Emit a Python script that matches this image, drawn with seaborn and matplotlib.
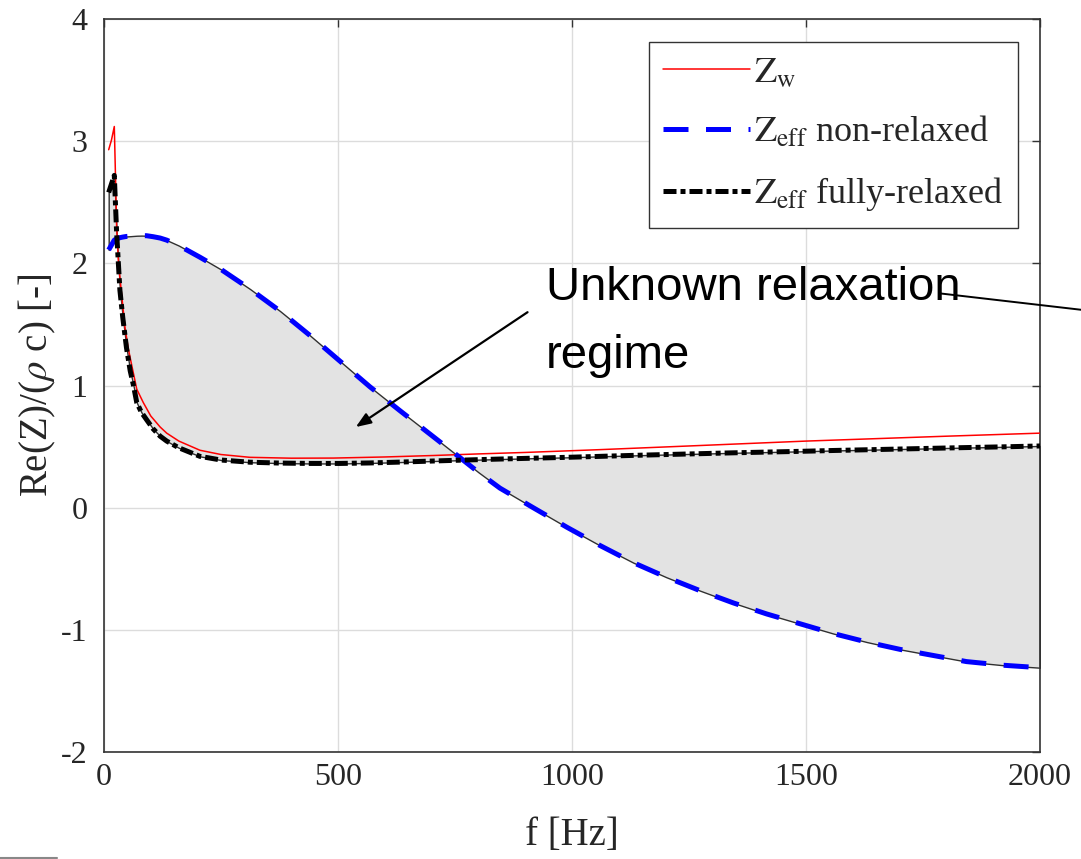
import matplotlib
matplotlib.use("Agg")
import matplotlib.pyplot as plt
import seaborn as sns
import numpy as np

# Wall impedance Z_w (real part, normalised by rho*c)
freq_w = [10, 16, 22, 24, 27, 31, 38, 45, 52, 59, 70, 84, 100, 120, 134, 160,
          205, 250, 312, 400, 490, 600, 704, 800, 900, 1060, 1250, 1500, 1650,
          1800, 2000]
z_w = [2.93, 3.01, 3.12, 2.80, 2.30, 2.00, 1.73, 1.47, 1.30, 1.17, 0.97, 0.86,
       0.75, 0.66, 0.61, 0.545, 0.47, 0.435, 0.412, 0.405, 0.406, 0.415, 0.427,
       0.44, 0.452, 0.475, 0.505, 0.545, 0.565, 0.585, 0.61]

# Effective impedance, non-relaxed and fully-relaxed limits
freq_eff = [10, 22, 27, 34, 40, 48, 56, 63, 70, 80, 91, 105, 120, 134, 160,
            205, 250, 312, 376, 440, 504, 568, 632, 704, 754, 800, 846, 917,
            989, 1060, 1131, 1202, 1274, 1345, 1416, 1487, 1558, 1630, 1701,
            1772, 1843, 1922, 2000]
z_non_relaxed = [2.11, 2.19, 2.20, 2.21, 2.215, 2.22, 2.222, 2.224, 2.226,
                 2.227, 2.226, 2.218, 2.207, 2.19, 2.145, 2.05, 1.95, 1.79,
                 1.61, 1.41, 1.20, 0.99, 0.795, 0.58, 0.43, 0.29, 0.16, 0.0,
                 -0.16, -0.31, -0.45, -0.57, -0.68, -0.78, -0.87, -0.95, -1.03,
                 -1.10, -1.16, -1.21, -1.26, -1.29, -1.31]
z_fully_relaxed = [2.58, 2.72, 2.25, 1.78, 1.56, 1.31, 1.12, 1.00, 0.86, 0.78,
                   0.72, 0.645, 0.585, 0.545, 0.49, 0.42, 0.39, 0.372, 0.365,
                   0.362, 0.362, 0.366, 0.373, 0.382, 0.388, 0.393, 0.398,
                   0.405, 0.412, 0.42, 0.428, 0.435, 0.442, 0.449, 0.455,
                   0.461, 0.468, 0.474, 0.48, 0.486, 0.492, 0.498, 0.505]

x_ticks = [0, 500, 1000, 1500, 2000]
y_ticks = [-2, -1, 0, 1, 2, 3, 4]

sns.set_style("whitegrid")
plt.rcParams["font.family"] = ["Liberation Serif", "DejaVu Serif"]
plt.rcParams["mathtext.fontset"] = "stix"
plt.rcParams["axes.unicode_minus"] = False

fig = plt.figure(figsize=(10.81, 8.59), dpi=100)
ax = fig.add_axes([104 / 1081, 1 - 752 / 859, 936 / 1081, 733 / 859])

# Region between the two relaxation limits
ax.fill_between(freq_eff, z_non_relaxed, z_fully_relaxed, facecolor="#e3e3e3",
                edgecolor="#303030", linewidth=1.0, zorder=1)
ax.plot([freq_eff[-1], freq_eff[-1]], [z_non_relaxed[-1], z_fully_relaxed[-1]],
        color="#303030", lw=1.0, zorder=1)

sns.lineplot(x=freq_w, y=z_w, ax=ax, color="red", linewidth=1.1, sort=False,
             label=r"$\mathrm{Z_{w}}$", zorder=3)
sns.lineplot(x=freq_eff, y=z_non_relaxed, ax=ax, color="#0000ff", linewidth=3.6,
             linestyle=(0, (5, 3.5)), sort=False,
             label=r"$\mathrm{Z_{eff}}$ non-relaxed", zorder=4)
sns.lineplot(x=freq_eff, y=z_fully_relaxed, ax=ax, color="black", linewidth=3.6,
             linestyle=(0, (2.6, 0.8, 1.0, 0.8)), sort=False,
             label=r"$\mathrm{Z_{eff}}$ fully-relaxed", zorder=5)

ax.set_xlim(0, 2000)
ax.set_ylim(-2, 4)
ax.set_xticks(x_ticks)
ax.set_yticks(y_ticks)
ax.grid(True, color="#dcdcdc", linewidth=1.0)
for s in ax.spines.values():
    s.set_color("#333333")
    s.set_linewidth(1.2)
    s.set_visible(True)
ax.tick_params(direction="in", length=6, width=1.0, colors="#333333",
               top=True, right=True, labelsize=23)
ax.tick_params(axis="x", pad=8)
ax.tick_params(axis="y", pad=12)
for lbl in ax.get_xticklabels() + ax.get_yticklabels():
    lbl.set_color("#262626")

ax.set_xlabel("f [Hz]", fontsize=28, color="#262626", labelpad=18)
ax.set_ylabel(r"Re(Z)/($\rho$ c) [-]", fontsize=28, color="#262626", labelpad=2)

leg = ax.legend(loc="upper right", bbox_to_anchor=(1 - 22 / 936, 1 - 23 / 733),
                fontsize=26, frameon=True, fancybox=False, framealpha=1,
                edgecolor="#333333", handlelength=2.4, handletextpad=0.12,
                labelspacing=0.7, borderpad=0.4, borderaxespad=0)
leg.get_frame().set_linewidth(1.0)

# Annotation
ax.text(944, 1.697, "Unknown relaxation", family="Liberation Sans", fontsize=34,
        color="black", ha="left", va="baseline", zorder=6)
ax.text(944, 1.14, "regime", family="Liberation Sans", fontsize=34,
        color="black", ha="left", va="baseline", zorder=6)
ax.annotate("", xy=(538, 0.66), xytext=(905, 1.60),
            arrowprops=dict(arrowstyle="-|>,head_length=0.9,head_width=0.35",
                            color="black", lw=1.6, shrinkA=0, shrinkB=0),
            zorder=6)
ax.annotate("", xy=(2200, 1.570), xytext=(1786, 1.754),
            arrowprops=dict(arrowstyle="-", color="black", lw=1.4,
                            shrinkA=0, shrinkB=0),
            annotation_clip=False, zorder=7)

fig.add_artist(plt.Line2D([0, 57 / 1081], [1.5 / 859, 1.5 / 859],
                          color="#888888", lw=1.5))

fig.savefig("out.png", dpi=100)
